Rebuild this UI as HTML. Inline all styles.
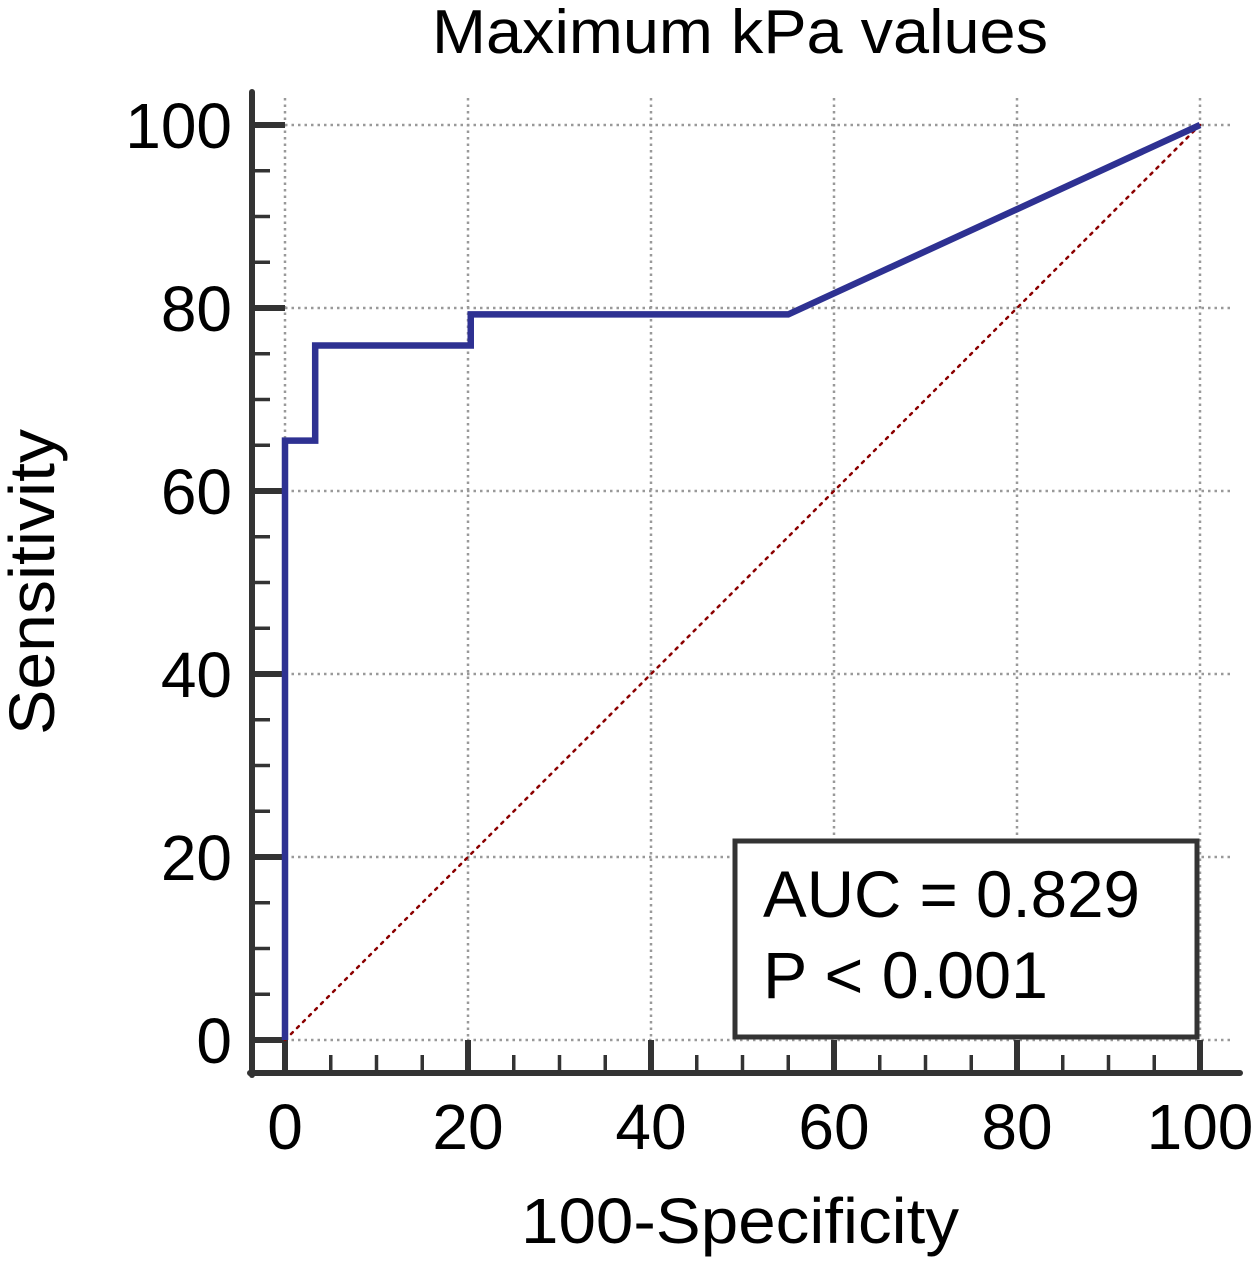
<!DOCTYPE html>
<html><head><meta charset="utf-8"><style>
html,body{margin:0;padding:0;background:#fff;}
svg{display:block;font-family:"Liberation Sans",Arial,sans-serif;}
</style></head><body>
<svg id="chart" width="1258" height="1266" viewBox="0 0 1258 1266">
<text x="740" y="53" font-size="62" text-anchor="middle" textLength="616" lengthAdjust="spacingAndGlyphs" fill="#000">Maximum kPa values</text>
<g id="grid"></g>
<g id="axes"></g>
<line id="diag" stroke="#8b0000" stroke-width="2.5" stroke-dasharray="2.5,6" stroke-linecap="round"/>
<path id="roc" fill="none" stroke="#2e3192" stroke-width="6.5" stroke-linejoin="miter"/>
<g>
<rect x="735" y="841" width="462" height="196" fill="#fff" stroke="#333" stroke-width="5"/>
<text x="763" y="917" font-size="66" textLength="377" lengthAdjust="spacingAndGlyphs" fill="#000">AUC = 0.829</text>
<text x="763" y="998" font-size="66" textLength="285" lengthAdjust="spacingAndGlyphs" fill="#000">P &lt; 0.001</text>
</g>
<text x="740" y="1243" font-size="64" text-anchor="middle" textLength="438" lengthAdjust="spacingAndGlyphs" fill="#000">100-Specificity</text>
<text transform="translate(54,582) rotate(-90)" font-size="64" text-anchor="middle" textLength="306" lengthAdjust="spacingAndGlyphs" fill="#000">Sensitivity</text>
</svg>
<script>
const rocX = [0, 0, 3.3, 3.3, 20.3, 20.3, 55, 100];
const rocY = [0, 65.5, 65.5, 75.9, 75.9, 79.3, 79.3, 100];
const xTicks = [0, 20, 40, 60, 80, 100];
const yTicks = [0, 20, 40, 60, 80, 100];
const NS = 'http://www.w3.org/2000/svg';
const sx = v => 285 + v * 9.15;
const sy = v => 1040 - v * 9.15;
function mk(parent, tag, attrs) {
  const e = document.createElementNS(NS, tag);
  for (const k in attrs) e.setAttribute(k, attrs[k]);
  parent.appendChild(e);
  return e;
}
const grid = document.getElementById('grid');
const axes = document.getElementById('axes');
xTicks.forEach(t => {
  const l = mk(grid, 'line', {x1: sx(t), x2: sx(t), y1: 98, y2: 1040, stroke: '#999', 'stroke-width': 2.5, 'stroke-dasharray': '2.5,4'});
  
  
});
yTicks.forEach(t => {
  const l = mk(grid, 'line', {x1: 285, x2: 1230, y1: sy(t), y2: sy(t), stroke: '#999', 'stroke-width': 2.5, 'stroke-dasharray': '2.5,4'});
  
  
});
let a = mk(axes, 'line', {x1: 252, x2: 252, y1: 92, y2: 1075, stroke: '#333', 'stroke-width': 6, 'stroke-linecap': 'round'});


a = mk(axes, 'line', {x1: 250, x2: 1240, y1: 1073, y2: 1073, stroke: '#333', 'stroke-width': 6, 'stroke-linecap': 'round'});


for (let v = 0; v <= 100; v += 5) {
  const major = v % 20 === 0;
  const tx = mk(axes, 'line', {x1: sx(v), x2: sx(v), y1: 1073, y2: major ? 1040 : 1055, stroke: '#333', 'stroke-width': major ? 6 : 3.5});
  
  
  const ty = mk(axes, 'line', {x1: 252, x2: major ? 285 : 270, y1: sy(v), y2: sy(v), stroke: '#333', 'stroke-width': major ? 6 : 3.5});
  
  
}
xTicks.forEach(t => {
  const e = mk(axes, 'text', {x: sx(t), y: 1149, 'font-size': 64, 'text-anchor': 'middle', fill: '#000'});
  e.textContent = String(t);
  
  
});
yTicks.forEach(t => {
  const e = mk(axes, 'text', {x: 232, y: sy(t) + 23, 'font-size': 64, 'text-anchor': 'end', fill: '#000'});
  e.textContent = String(t);
  
  
});
const d = document.getElementById('diag');
d.setAttribute('x1', sx(0)); d.setAttribute('y1', sy(0));
d.setAttribute('x2', sx(100)); d.setAttribute('y2', sy(100));
document.getElementById('roc').setAttribute('d', rocX.map((x, i) => (i ? 'L' : 'M') + sx(x) + ',' + sy(rocY[i])).join(' '));
</script>
</body></html>
